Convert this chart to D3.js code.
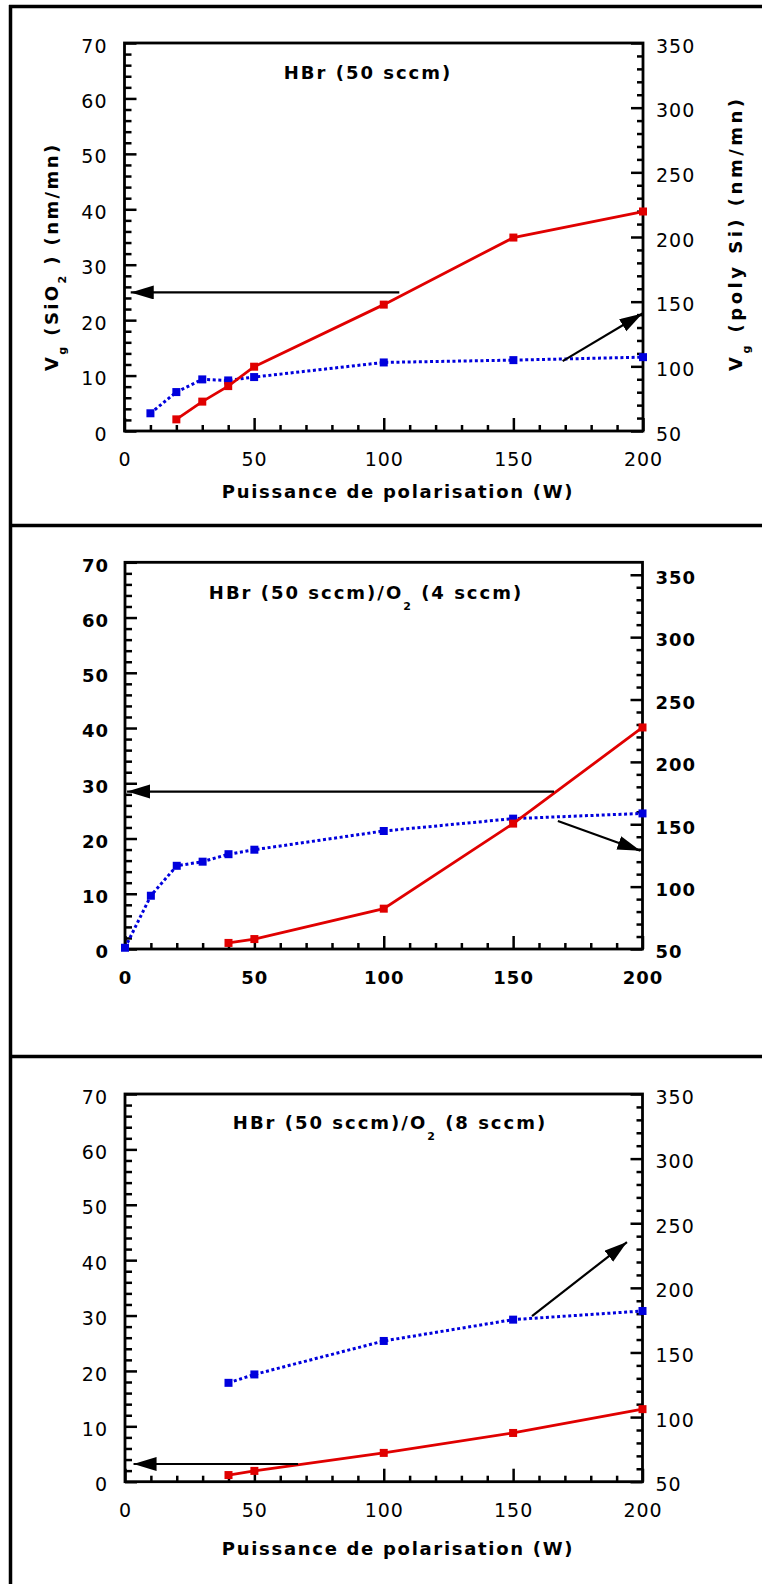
<!DOCTYPE html>
<html><head><meta charset="utf-8">
<script src="https://cdn.jsdelivr.net/npm/d3@7"></script>
<style>body{margin:0;background:#fff}svg{display:block}</style>
</head><body>
<svg id="c" width="762" height="1584"></svg>
<script>
// ---------- data ----------
const xTicks = [0, 50, 100, 150, 200];
const leftTicks = [0, 10, 20, 30, 40, 50, 60, 70];
const rightTicks = [50, 100, 150, 200, 250, 300, 350];

const p1Title = [["HBr (50 sccm)", false]];
const p1SiO2 = [[20, 2.1], [30, 5.3], [40, 8.1], [50, 11.6], [100, 22.8], [150, 34.9], [200, 39.6]];
const p1Poly = [[10, 63.7], [20, 80.1], [30, 89.9], [40, 89.1], [50, 91.7], [100, 103], [150, 104.8], [200, 107.1]];
const p1ArrowLeft = [[106, 25], [2.4, 25]];
const p1ArrowRight = [[169, 104], [199.8, 140.8]];

const p2Title = [["HBr (50 sccm)/O", false], ["2", true], [" (4 sccm)", false]];
const p2SiO2 = [[40, 1.1], [50, 1.8], [100, 7.3], [150, 22.7], [200, 40.1]];
const p2Poly = [[0, 51], [10, 92.7], [20, 116.7], [30, 120], [40, 126], [50, 129.6], [100, 144.6], [150, 154.5], [200, 158.7]];
const p2ArrowLeft = [[165.8, 28.5], [0.8, 28.5]];
const p2ArrowRight = [[167.3, 152.6], [199.2, 128.8]];

const p3Title = [["HBr (50 sccm)/O", false], ["2", true], [" (8 sccm)", false]];
const p3SiO2 = [[40, 1.2], [50, 1.95], [100, 5.2], [150, 8.8], [200, 13.1]];
const p3Poly = [[40, 126.5], [50, 133], [100, 158.9], [150, 175.4], [200, 182.1]];
const p3ArrowLeft = [[66.9, 3.2], [3.3, 3.2]];
const p3ArrowRight = [[157.3, 178.2], [194, 235.4]];

const xTitle = "Puissance de polarisation (W)";
const yLeftTitle = [["V", false], ["g", true], [" (SiO", false], ["2", true], [" ) (nm/mn)", false]];
const yRightTitle = [["V", false], ["g", true], [" (poly Si) (nm/mn)", false]];

// ---------- layout ----------
const FONT = "'DejaVu Sans', Verdana, sans-serif";
const panels = [
  {title: p1Title, siO2: p1SiO2, poly: p1Poly, aL: p1ArrowLeft, aR: p1ArrowRight,
   top: 43, bottom: 431, left: 124.5, right: 643, rMax: 350, bold: false,
   titleX: 368, titleY: 79, xTitleY: 498, yTitles: true},
  {title: p2Title, siO2: p2SiO2, poly: p2Poly, aL: p2ArrowLeft, aR: p2ArrowRight,
   top: 562.3, bottom: 949, left: 125, right: 642.5, rMax: 360, bold: true,
   titleX: 366, titleY: 599, xTitleY: null, yTitles: false},
  {title: p3Title, siO2: p3SiO2, poly: p3Poly, aL: p3ArrowLeft, aR: p3ArrowRight,
   top: 1094, bottom: 1481.7, left: 125, right: 642.5, rMax: 350, bold: false,
   titleX: 390, titleY: 1129, xTitleY: 1555, yTitles: false}
];

const svg = d3.select("#c");
const defs = svg.append("defs");
defs.append("marker").attr("id", "ah").attr("markerUnits", "userSpaceOnUse")
  .attr("markerWidth", 26).attr("markerHeight", 16).attr("refX", 23).attr("refY", 7)
  .attr("orient", "auto")
  .append("path").attr("d", "M0,0 L23,7 L0,14 Z").attr("fill", "#000");

// outer frame
const frameY = [6.5, 525.5, 1056.5];
svg.selectAll("line.frame").data(frameY).enter().append("line")
  .attr("x1", 9).attr("x2", 762).attr("y1", d => d).attr("y2", d => d)
  .attr("stroke", "#000").attr("stroke-width", 3.5);
svg.append("line").attr("x1", 10.5).attr("x2", 10.5).attr("y1", 5).attr("y2", 1584)
  .attr("stroke", "#000").attr("stroke-width", 3.5);

function addRich(sel, segs, subSize, subShift) {
  segs.forEach(([t, sub], i) => {
    const ts = sel.append("tspan").text(t);
    if (sub) ts.attr("font-size", subSize).attr("dy", subShift);
    else if (i > 0 && segs[i - 1][1]) ts.attr("dy", -subShift);
  });
}

panels.forEach(p => {
  const g = svg.append("g");
  const x = d3.scaleLinear().domain([0, 200]).range([p.left, p.right]);
  const yL = d3.scaleLinear().domain([0, 70]).range([p.bottom, p.top]);
  const yR = d3.scaleLinear().domain([50, p.rMax]).range([p.bottom, p.top]);
  const fw = p.bold ? "bold" : "normal";
  const fs = p.bold ? 18 : 19;

  const minorL = d3.range(0, 71, 2).filter(v => v % 10 !== 0);
  const minorR = d3.range(50, 351, 10).filter(v => v % 50 !== 0);
  const minorX = d3.range(0, 201, 10).filter(v => v % 50 !== 0);

  function style(ax) {
    ax.select(".domain").remove();
    ax.selectAll("line").attr("stroke", "#000").attr("stroke-width", 2.5);
    ax.selectAll("text").attr("font-family", FONT).attr("font-size", fs)
      .attr("font-weight", fw).attr("fill", "#000").style("letter-spacing", "1px");
  }
  // left axis
  const aL = g.append("g").attr("transform", `translate(${p.left},0)`)
    .call(d3.axisLeft(yL).tickValues(leftTicks).tickSize(-12).tickPadding(p.bold ? 16 : 17));
  style(aL); aL.selectAll("text").attr("y", 3);
  const aLm = g.append("g").attr("transform", `translate(${p.left},0)`)
    .call(d3.axisLeft(yL).tickValues(minorL).tickSize(-7).tickFormat(""));
  style(aLm);
  // right axis
  const aR = g.append("g").attr("transform", `translate(${p.right},0)`)
    .call(d3.axisRight(yR).tickValues(rightTicks).tickSize(-12).tickPadding(13));
  style(aR); aR.selectAll("text").attr("y", 3);
  const aRm = g.append("g").attr("transform", `translate(${p.right},0)`)
    .call(d3.axisRight(yR).tickValues(minorR).tickSize(-6).tickFormat(""));
  style(aRm);
  // bottom axis
  const aB = g.append("g").attr("transform", `translate(0,${p.bottom})`)
    .call(d3.axisBottom(x).tickValues(xTicks).tickSize(-13).tickPadding(22));
  style(aB);
  const aBm = g.append("g").attr("transform", `translate(0,${p.bottom})`)
    .call(d3.axisBottom(x).tickValues(minorX).tickSize(-6).tickFormat(""));
  style(aBm);

  // plot frame
  g.append("rect").attr("x", p.left).attr("y", p.top)
    .attr("width", p.right - p.left).attr("height", p.bottom - p.top)
    .attr("fill", "none").attr("stroke", "#000").attr("stroke-width", 2.8);

  // series
  const lineL = d3.line().x(d => x(d[0])).y(d => yL(d[1]));
  const lineR = d3.line().x(d => x(d[0])).y(d => yR(d[1]));
  g.append("path").datum(p.poly).attr("d", lineR).attr("fill", "none")
    .attr("stroke", "#0000dd").attr("stroke-width", 3).attr("stroke-dasharray", "3,2.6");
  g.selectAll("rect.pb").data(p.poly).enter().append("rect")
    .attr("x", d => x(d[0]) - 4).attr("y", d => yR(d[1]) - 4)
    .attr("width", 8).attr("height", 8).attr("fill", "#0000dd");
  g.append("path").datum(p.siO2).attr("d", lineL).attr("fill", "none")
    .attr("stroke", "#e00000").attr("stroke-width", 2.8);
  g.selectAll("rect.pr").data(p.siO2).enter().append("rect")
    .attr("x", d => x(d[0]) - 4).attr("y", d => yL(d[1]) - 4)
    .attr("width", 8).attr("height", 8).attr("fill", "#e00000");

  // arrows
  g.append("line").attr("x1", x(p.aL[0][0])).attr("y1", yL(p.aL[0][1]))
    .attr("x2", x(p.aL[1][0])).attr("y2", yL(p.aL[1][1]))
    .attr("stroke", "#000").attr("stroke-width", 2.2).attr("marker-end", "url(#ah)");
  g.append("line").attr("x1", x(p.aR[0][0])).attr("y1", yR(p.aR[0][1]))
    .attr("x2", x(p.aR[1][0])).attr("y2", yR(p.aR[1][1]))
    .attr("stroke", "#000").attr("stroke-width", 2.2).attr("marker-end", "url(#ah)");

  // panel title
  const t = g.append("text").attr("x", p.titleX).attr("y", p.titleY)
    .attr("text-anchor", "middle").attr("font-family", FONT).attr("font-size", 18)
    .attr("font-weight", "bold").style("letter-spacing", "2px");
  addRich(t, p.title, 11, 11);

  if (p.xTitleY) {
    g.append("text").attr("x", 398).attr("y", p.xTitleY).attr("text-anchor", "middle")
      .attr("font-family", FONT).attr("font-size", 18).attr("font-weight", "bold")
      .style("letter-spacing", "1.7px").text(xTitle);
  }
  if (p.yTitles) {
    const tl = g.append("text").attr("transform", `translate(58,371) rotate(-90)`)
      .attr("font-family", FONT).attr("font-size", 18).attr("font-weight", "bold")
      .style("letter-spacing", "2.4px");
    addRich(tl, yLeftTitle, 11, 8);
    const tr = g.append("text").attr("transform", `translate(742,371) rotate(-90)`)
      .attr("font-family", FONT).attr("font-size", 18).attr("font-weight", "bold")
      .style("letter-spacing", "3.5px");
    addRich(tr, yRightTitle, 11, 8);
  }
});
</script>
</body></html>
